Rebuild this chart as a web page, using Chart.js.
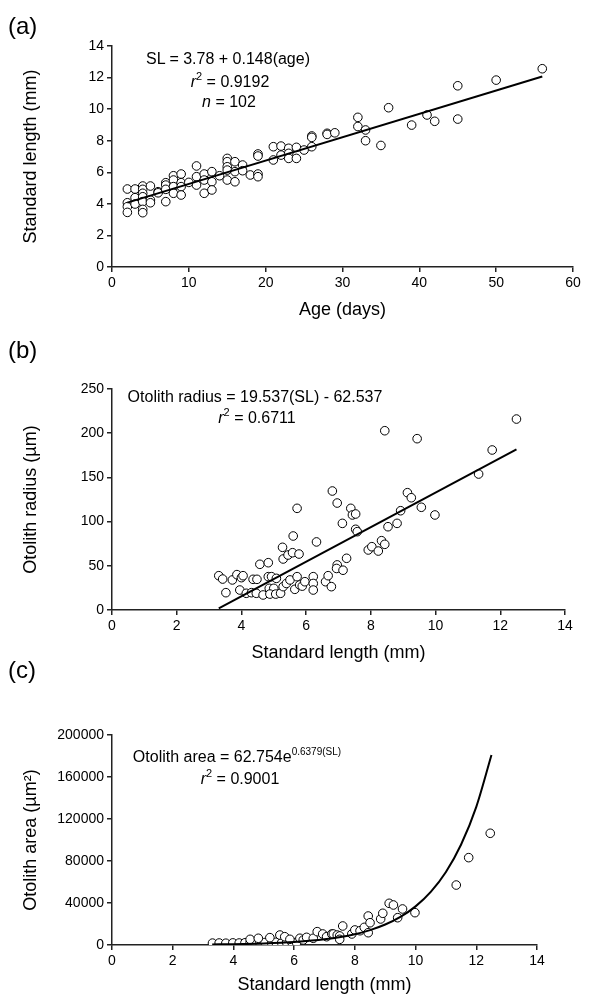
<!DOCTYPE html>
<html><head><meta charset="utf-8">
<script src="https://cdn.jsdelivr.net/npm/chart.js@4.4.1/dist/chart.umd.min.js"></script>
<style>
body{margin:0;background:#fff;width:594px;height:1001px;overflow:hidden;position:relative;font-family:"Liberation Sans",Arial,sans-serif;}
canvas{position:absolute;left:0;top:0;}
.t{position:absolute;white-space:nowrap;transform:translate(-50%,-50%);font-size:16px;color:#000;line-height:1;}
.p{position:absolute;font-size:24px;left:8px;transform:translateY(-50%);line-height:1;color:#000;}
.s{font-size:10px;position:relative;top:-7px;}
.s2{font-size:11px;position:relative;top:-7px;}
</style></head><body>
<canvas id="ca" width="594" height="1001"></canvas>
<canvas id="cb" width="594" height="1001"></canvas>
<canvas id="cc" width="594" height="1001"></canvas>

<div class="p" style="top:26px">(a)</div>
<div class="p" style="top:350px">(b)</div>
<div class="p" style="top:670px">(c)</div>

<div class="t" style="left:228px;top:59px">SL = 3.78 + 0.148(age)</div>
<div class="t" style="left:230px;top:82px"><i>r</i><span class="s2">2</span> = 0.9192</div>
<div class="t" style="left:229px;top:102px"><i>n</i> = 102</div>

<div class="t" style="left:255px;top:397px">Otolith radius = 19.537(SL) - 62.537</div>
<div class="t" style="left:257px;top:418px"><i>r</i><span class="s2">2</span> = 0.6711</div>

<div class="t" style="left:237px;top:757px">Otolith area = 62.754e<span class="s">0.6379(SL)</span></div>
<div class="t" style="left:240px;top:779px"><i>r</i><span class="s2">2</span> = 0.9001</div>

<script>
// ---- Panel (a): age vs standard length ----
const ageA = [2,2,2,2, 3,3,3, 4,4,4,4,4,4,4, 5,5,5, 6,6, 7,7,7,7, 8,8,8,8, 9,9,9,9, 10, 11,11,11, 12,12,12, 13,13,13, 14, 15,15,15,15,15, 16,16,16, 17,17, 18, 19,19,19,19, 21,21, 22,22, 23,23,23, 24,24, 25, 26,26,26, 28,28, 29, 32,32, 33,33, 35, 36, 39, 41, 42, 45,45, 50, 56];
const slA  = [4.94,4.07,3.82,3.46, 4.94,4.39,3.99, 5.13,4.92,4.67,4.45,4.14,3.65,3.44, 5.13,4.24,4.07, 4.77,4.7, 5.34,5.19,4.92,4.14, 5.78,5.51,5.09,4.67, 5.89,5.34,5.09,4.56, 5.36, 6.4,5.72,5.19, 5.89,5.51,4.67, 6.04,5.4,4.88, 5.78, 6.88,6.67,6.35,6.14,5.51, 6.67,6.04,5.4, 6.46,6.1, 5.83, 7.16,7.03,5.89,5.72, 7.62,6.78, 7.66,7.09, 7.52,7.2,6.88, 7.58,6.88, 7.41, 8.3,8.21,7.62, 8.47,8.4, 8.5, 9.48,8.9, 8.68,8.0, 7.7, 10.09, 8.99, 9.63, 9.23, 11.48,9.37, 11.84, 12.56];
const fitAx = [2, 56];
const fitAy = [4.08, 12.07];
const xTicksA = {min:0, max:60, step:10};
const yTicksA = {min:0, max:14, step:2};

// ---- Panel (b): standard length vs otolith radius ----
const slB = [3.30,3.42,3.52,3.72,3.86,4.00,4.05,3.95,4.15,4.36,4.48,4.31,4.57,4.83,4.46,4.67,4.83,4.93,5.08,4.86,5.00,4.88,5.06,5.21,5.27,5.29,5.44,5.58,5.60,5.72,5.78,5.29,5.39,5.50,5.65,5.72,5.80,5.88,5.96,6.22,6.22,6.22,6.32,6.60,6.68,6.78,6.81,6.96,7.12,6.96,6.94,7.14,7.25,7.38,7.43,7.53,7.53,7.58,7.92,8.03,8.23,8.33,8.43,8.43,8.53,8.81,8.92,9.13,9.25,9.43,9.56,9.98,11.33,11.75,12.50];
const radB = [38.8,35,19.6,34,40,36.6,38.8,22.6,18.9,34.7,34.7,19.6,51.7,53.5,18.9,17,37.7,37.7,35.8,24.5,24.5,18,18,18.9,70.9,57.7,62.2,64.8,83.7,115,63.3,26.4,30,34,23.4,37.7,28.3,27,32,37.7,30,22.6,77,32,38.8,26.4,134.6,121,98,51,47,45,58.5,115,107.5,108.6,91.3,88.6,67.9,71.6,66.7,78.4,74.3,202.8,94.2,98,112.3,132.7,127,193.8,116.2,107.5,153.8,181,216];
const fitBx = [3.3, 12.5];
const fitBy = [1.9, 181.7];
const xTicksB = {min:0, max:14, step:2};
const yTicksB = {min:0, max:250, step:50};

// ---- Panel (c): standard length vs otolith area ----
const slC = [3.31,3.53,3.75,3.98,4.19,4.38,4.55,4.71,4.87,5.04,5.26,5.40,5.59,5.75,5.92,6.08, 4.55,4.82,5.2,5.53,5.69,5.86,6.19,6.3,6.41,6.63,6.76,6.94,7.07,7.24,7.29,7.42,7.5,7.5,7.6,7.9,8.0,8.17,8.31,8.44,8.44,8.5,8.85,8.92,9.13,9.27,9.41,9.57,9.98,11.34,11.75,12.46];
const areaC = [1800,1900,1700,2000,1900,2100,2300,1800,2200,2400,2000,2600,2200,2500,2800,2300, 5400,6400,7000,9500,7900,5400,6400,4800,7300,6400,12700,10500,7900,10500,10500,9500,8600,5400,18100,10500,14300,13600,16800,11700,27600,21200,24800,30200,39700,38100,26000,34300,30800,57100,83200,106400];
const fitCx = [3.3,4,5,6,7,8,8.5,9,9.5,10,10.5,11,11.5,12,12.5];
const fitCy = [520,810,1530,2880,5460,10300,14200,19500,26800,36800,50600,69600,95700,131600,181000];
const xTicksC = {min:0, max:14, step:2};
const yTicksC = {min:0, max:200000, step:40000};

Chart.defaults.font.family = '"Liberation Sans", Arial, sans-serif';
Chart.defaults.color = '#000';

function pts(xs, ys){ return xs.map((x,i)=>({x:x, y:ys[i]})); }

function axis(t, title, isY, extra){
  return Object.assign({
    type:'linear', min:t.min, max:t.max,
    ticks:{stepSize:t.step, color:'#000', font:{size:14}, padding:3, maxRotation:0,
      callback:(v)=>String(v)},
    grid:{drawOnChartArea:false, drawTicks:true, tickLength:5, color:'#222', lineWidth:1.5},
    border:{display:true, color:'#222', width:1.5},
    title:{display:true, text:title, color:'#000', font:{size:18}}
  }, extra);
}

function makeChart(id, data, fit, xt, yt, xTitle, yTitle, lay, curved){
  new Chart(document.getElementById(id), {
    type:'scatter',
    data:{datasets:[
      {data:fit, showLine:true, borderColor:'#000', borderWidth:2, pointRadius:0, fill:false, order:0,
       cubicInterpolationMode: curved ? 'monotone' : 'default', tension:0},
      {data:data, pointRadius:4.3, pointBorderWidth:1, pointBorderColor:'#000', pointBackgroundColor:'#fff',
       borderColor:'#000', backgroundColor:'#fff', showLine:false, order:1}
    ]},
    options:{
      responsive:false, animation:false, devicePixelRatio:1,
      layout:{padding:{left:16, right:lay.right, top:lay.top, bottom:lay.bottom}},
      plugins:{legend:{display:false}, tooltip:{enabled:false}},
      scales:{
        x: axis(xt, xTitle, false, {afterFit:(s)=>{s.height=lay.xh;}}),
        y: axis(yt, yTitle, true, {afterFit:(s)=>{s.width=96;}})
      }
    }
  });
}

makeChart('ca', pts(ageA, slA), pts(fitAx, fitAy), xTicksA, yTicksA, 'Age (days)', 'Standard length (mm)',
  {top:46, right:21, xh:58, bottom:1001-267-58}, false);
makeChart('cb', pts(slB, radB), pts(fitBx, fitBy), xTicksB, yTicksB, 'Standard length (mm)', 'Otolith radius (µm)',
  {top:389, right:29, xh:58, bottom:1001-610-58}, false);
makeChart('cc', pts(slC, areaC), pts(fitCx, fitCy), xTicksC, yTicksC, 'Standard length (mm)', 'Otolith area (µm²)',
  {top:735, right:57, xh:55, bottom:1001-945-55}, true);
</script>
</body></html>
